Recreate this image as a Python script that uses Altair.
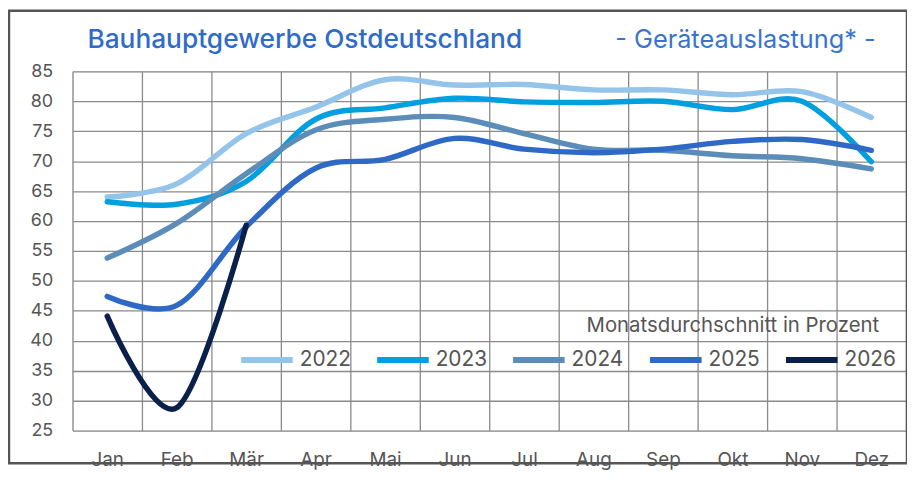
import altair as alt
import pandas as pd

months = ["Jan", "Feb", "Mär", "Apr", "Mai", "Jun", "Jul", "Aug", "Sep", "Okt", "Nov", "Dez"]
years = ["2022", "2023", "2024", "2025", "2026"]
v2022 = [64.0, 66.2, 74.6, 79.0, 83.6, 82.7, 82.8, 81.9, 81.9, 81.1, 81.6, 77.3]
v2023 = [63.2, 62.8, 66.6, 77.0, 78.9, 80.5, 79.9, 79.8, 80.0, 78.6, 80.0, 69.9]
v2024 = [53.8, 59.6, 67.9, 75.2, 77.0, 77.3, 74.6, 72.0, 71.8, 70.9, 70.4, 68.7]
v2025 = [47.4, 45.9, 59.0, 68.8, 70.3, 73.8, 72.0, 71.4, 72.0, 73.3, 73.6, 71.8]
v2026 = [44.1, 28.8, 59.3]
colors = ["#94C4EA", "#009FDF", "#5B8DB8", "#2F69C6", "#0B1F4B"]

rows = []
for y, vals in zip(years, [v2022, v2023, v2024, v2025, v2026]):
    for m, v in zip(months, vals):
        rows.append({"Monat": m, "Jahr": y, "Wert": v})
df = pd.DataFrame(rows)

FONT = "Inter"
TXT = "#555555"
GRID = "#8a8a8a"

lines = alt.Chart(df).mark_line(
    interpolate="cardinal", strokeWidth=5.5, strokeCap="round", strokeJoin="round"
).encode(
    x=alt.X("Monat:N", sort=months, title=None,
            scale=alt.Scale(type="band", paddingInner=0, paddingOuter=0),
            axis=alt.Axis(labelAngle=0, tickBand="extent", grid=True, ticks=False,
                          domain=False, labelFontSize=19, labelColor=TXT, labelFont=FONT,
                          labelPadding=20, gridColor=GRID, gridWidth=1.3)),
    y=alt.Y("Wert:Q", title=None,
            scale=alt.Scale(domain=[25, 85], nice=False, zero=False),
            axis=alt.Axis(values=list(range(25, 90, 5)), grid=True, ticks=False,
                          domain=False, labelFontSize=18, labelColor=TXT, labelFont=FONT,
                          labelPadding=20, gridColor=GRID, gridWidth=1.3)),
    color=alt.Color("Jahr:N", scale=alt.Scale(domain=years, range=colors),
                    legend=alt.Legend(orient="none", legendX=167, legendY=262,
                                      direction="horizontal", title=None,
                                      symbolType="stroke", symbolSize=2700,
                                      symbolStrokeWidth=6, labelFontSize=21,
                                      labelColor=TXT, labelFont=FONT, labelLimit=200,
                                      columnPadding=14, labelOffset=4, padding=0)),
    order=alt.Order("Jahr:N"),
)

title1 = alt.Chart(pd.DataFrame({"t": ["Bauhauptgewerbe Ostdeutschland"]})).mark_text(
    align="left", baseline="alphabetic", fontSize=26.5, font=FONT, fontWeight=500,
    color="#2F6BC8"
).encode(x=alt.value(15), y=alt.value(-23), text="t:N")

title2 = alt.Chart(pd.DataFrame({"t": ["- Geräteauslastung* -"]})).mark_text(
    align="left", baseline="alphabetic", fontSize=25.5, font=FONT, color="#3A74CC"
).encode(x=alt.value(547), y=alt.value(-23), text="t:N")

note = alt.Chart(pd.DataFrame({"t": ["Monatsdurchschnitt in Prozent"]})).mark_text(
    align="right", baseline="alphabetic", fontSize=20.5, font=FONT, color=TXT
).encode(x=alt.value(813), y=alt.value(263), text="t:N")

frame = alt.Chart(pd.DataFrame({"a": [0]})).mark_rect(
    fill=None, stroke="#555555", strokeWidth=2.5
).encode(x=alt.value(-64), x2=alt.value(841), y=alt.value(-61), y2=alt.value(395))

chart = alt.layer(frame, lines, title1, title2, note).properties(
    width=840, height=362,
    autosize=alt.AutoSizeParams(type="none"),
    padding={"left": 65, "top": 62, "right": 1, "bottom": 42},
).configure_view(stroke=GRID, strokeWidth=1.5).configure(background="white")

chart.save("out.html", embed_options={"renderer": "svg", "actions": False})
